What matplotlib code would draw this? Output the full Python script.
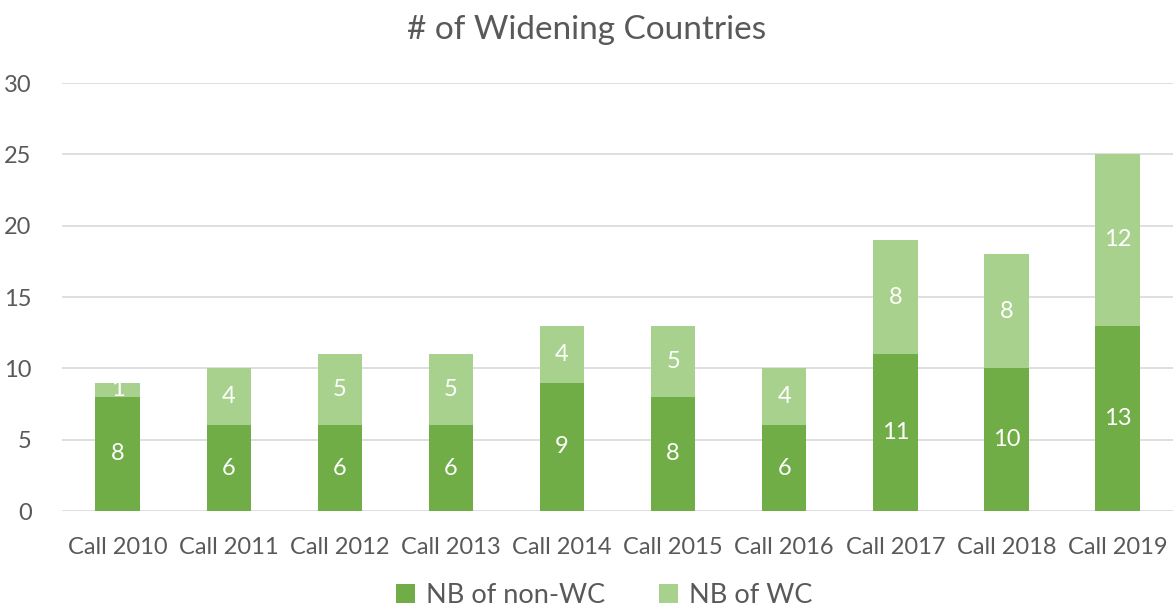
import numpy as np
import matplotlib.pyplot as plt

# data
CALLS = ["Call 2010", "Call 2011", "Call 2012", "Call 2013", "Call 2014",
         "Call 2015", "Call 2016", "Call 2017", "Call 2018", "Call 2019"]
NON_WC = [8, 6, 6, 6, 9, 8, 6, 11, 10, 13]
WC = [1, 4, 5, 5, 4, 5, 4, 8, 8, 12]

DARK = "#70AD47"
LIGHT = "#A9D18E"
TEXT = "#595959"

plt.rcParams["font.family"] = ["Lato", "DejaVu Sans"]

fig = plt.figure(figsize=(11.73, 6.15), dpi=100)
ax = fig.add_axes([0.053, 0.169, 0.947, 0.696])

x = np.arange(len(CALLS))
width = 0.4

ax.bar(x, NON_WC, width=width, color=DARK, label="NB of non-WC", zorder=3)
ax.bar(x, WC, width=width, bottom=NON_WC, color=LIGHT, label="NB of WC", zorder=3)

for i in range(len(CALLS)):
    ax.text(x[i], NON_WC[i] / 2, str(NON_WC[i]), ha="center", va="center",
            color="white", fontsize=17, zorder=4)
    ax.text(x[i], NON_WC[i] + WC[i] / 2, str(WC[i]), ha="center", va="center",
            color="white", fontsize=17, zorder=4)

ax.set_xlim(-0.5, len(CALLS) - 0.5)
ax.set_ylim(0, 30)
ax.set_yticks(range(0, 31, 5))
ax.set_xticks(x)
ax.set_xticklabels(CALLS)
ax.tick_params(axis="both", length=0, labelsize=17, colors=TEXT)
ax.tick_params(axis="x", pad=19)
ax.tick_params(axis="y", pad=22)
ax.grid(axis="y", color="#D9D9D9", linewidth=1.2, zorder=0)
for s in ["top", "right", "left", "bottom"]:
    ax.spines[s].set_visible(False)

fig.suptitle("# of Widening Countries", fontsize=24, color=TEXT, y=0.975)

fig.legend(loc="lower center", ncol=2, frameon=False, fontsize=19.5,
           bbox_to_anchor=(0.515, -0.028), handlelength=0.7, handleheight=0.7,
           columnspacing=2.0, handletextpad=0.4, labelcolor=TEXT)

fig.savefig("out.png", dpi=100)
